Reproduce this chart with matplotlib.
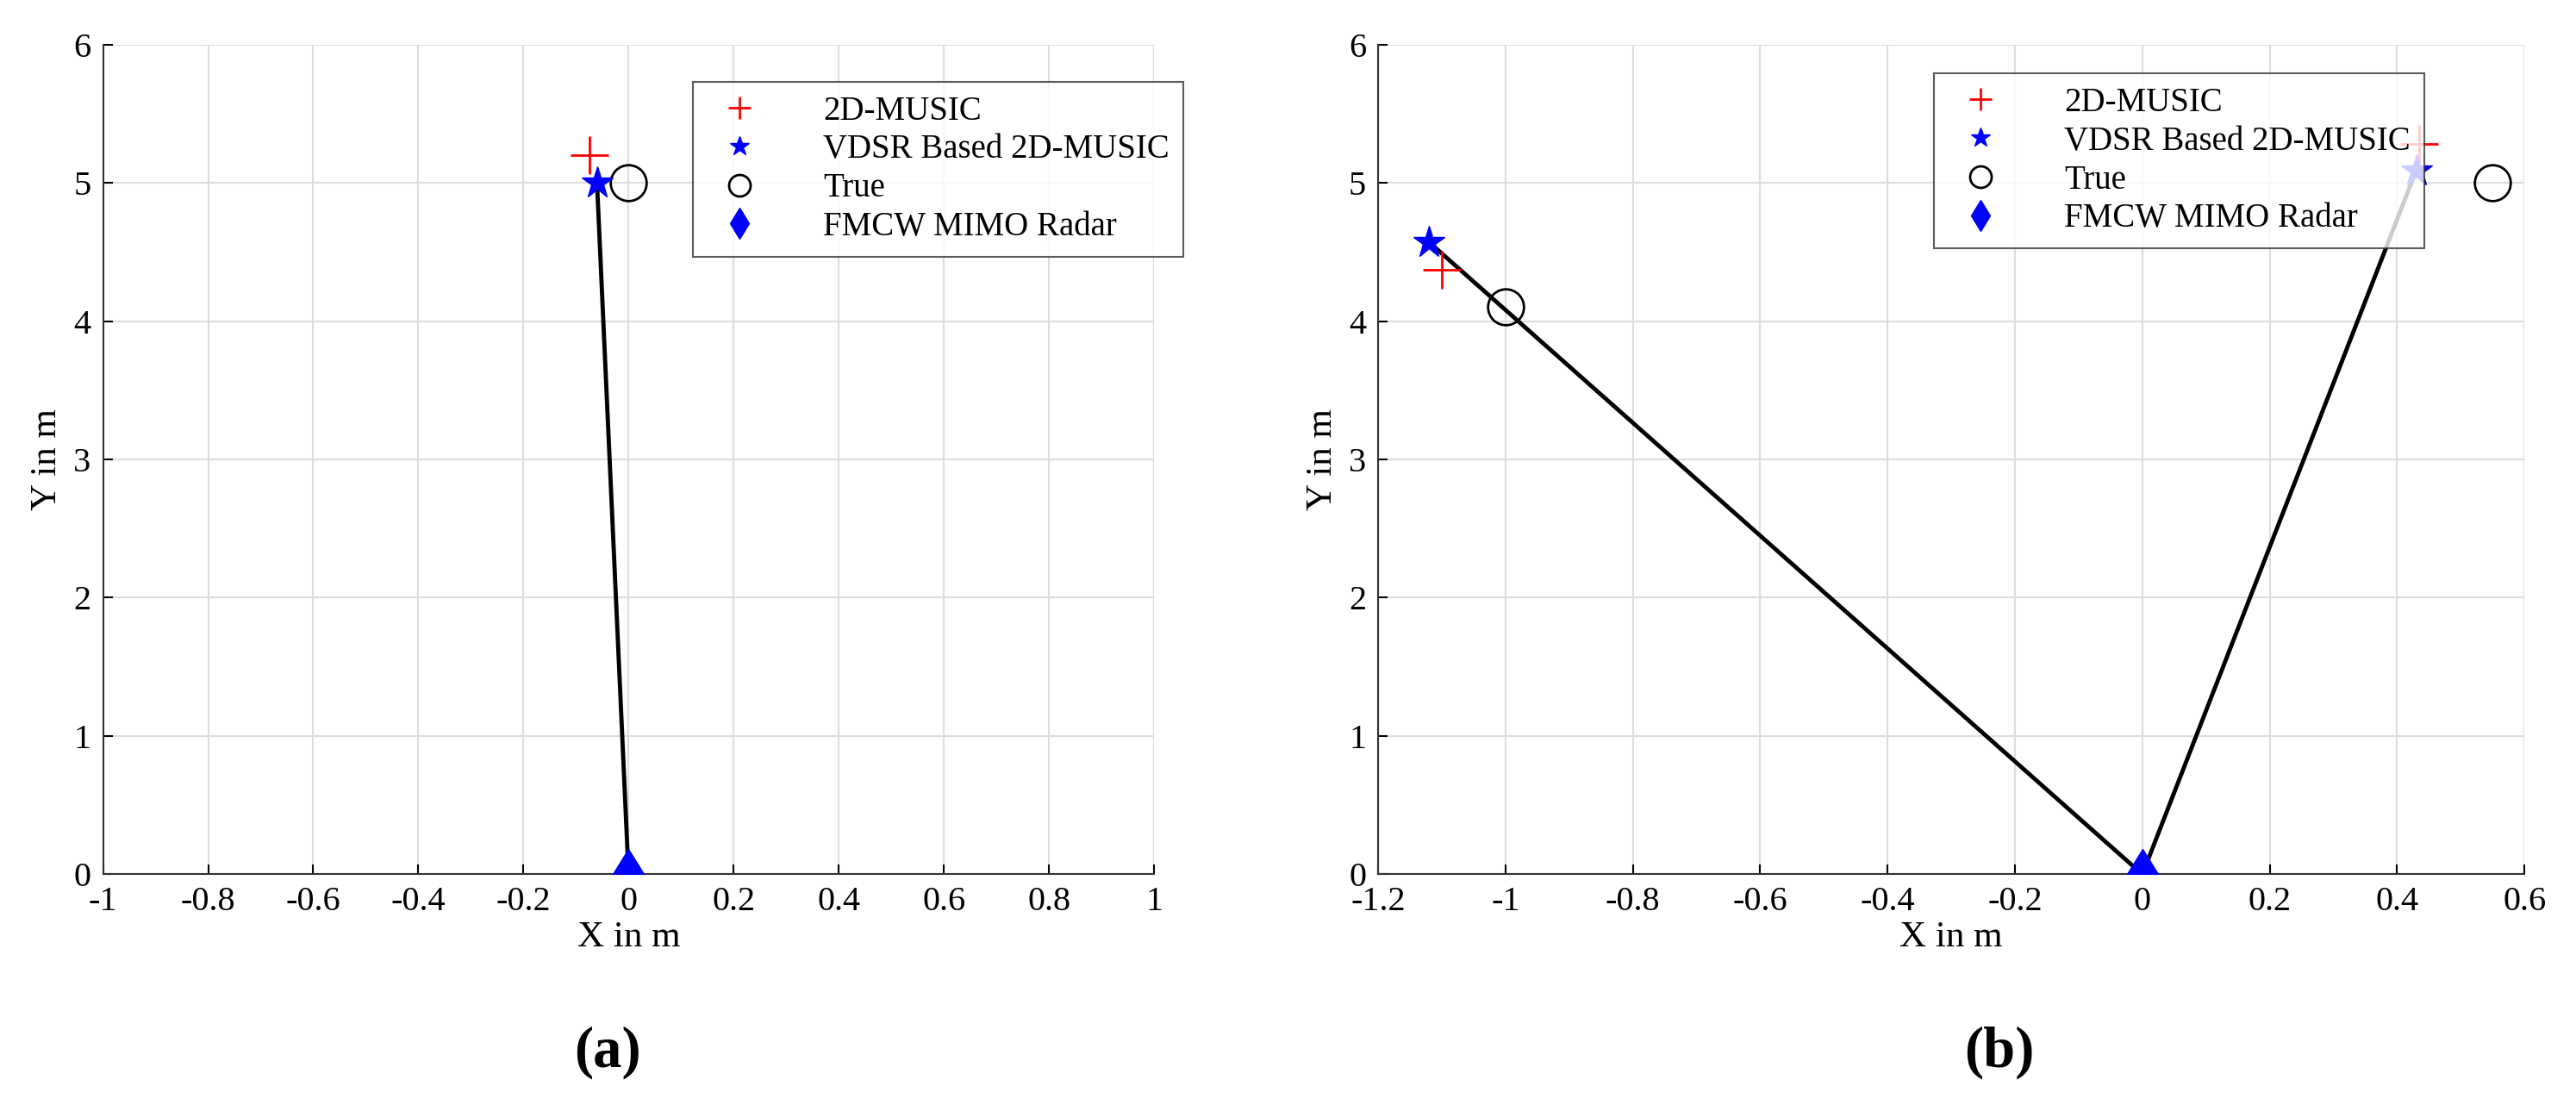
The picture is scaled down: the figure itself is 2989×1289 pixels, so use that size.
import matplotlib
matplotlib.use("Agg")
import matplotlib.pyplot as plt

plt.rcParams["font.family"] = ["Liberation Serif", "DejaVu Serif"]
plt.rcParams["axes.unicode_minus"] = False

# panel (a)
a_music_x = [-0.075]
a_music_y = [5.2]
a_vdsr_x = [-0.06]
a_vdsr_y = [5.0]
a_true_x = [0.0]
a_true_y = [5.0]

# panel (b)
b_music_x = [-1.10, 0.435]
b_music_y = [4.37, 5.28]
b_vdsr_x = [-1.12, 0.43]
b_vdsr_y = [4.57, 5.09]
b_true_x = [-1.0, 0.55]
b_true_y = [4.10, 5.00]

radar_x = [0.0]
radar_y = [0.0]

fig = plt.figure(figsize=(29.89, 12.89), dpi=100)
ax_a = fig.add_axes([0.040, 0.213, 0.408, 0.747])
ax_b = fig.add_axes([0.535, 0.213, 0.445, 0.747])


def draw(ax, mx, my, vx, vy, tx, ty, xlim, xticks, legend_anchor):
    for x, y in zip(vx, vy):
        ax.plot([radar_x[0], x], [radar_y[0], y], color="black", lw=3.5, zorder=2)
    ax.plot(mx, my, "+", color="red", ms=32, mew=2, ls="none", label="2D-MUSIC", zorder=3)
    ax.plot(vx, vy, "*", color="blue", ms=28, ls="none", label="VDSR Based 2D-MUSIC", zorder=4)
    ax.plot(tx, ty, "o", mfc="none", mec="black", ms=30, mew=2, ls="none", label="True", zorder=3)
    ax.plot(radar_x, radar_y, "d", color="blue", ms=30, ls="none", label="FMCW MIMO Radar", zorder=5)
    ax.set_xlim(*xlim)
    ax.set_ylim(0, 6)
    ax.set_xticks(xticks)
    ax.set_xticklabels([f"{t:g}" for t in xticks])
    ax.set_yticks(range(7))
    ax.grid(True, color="#dddddd", lw=1.5)
    ax.tick_params(labelsize=29, direction="in", length=8, width=1.5, pad=10)
    for s in ["top", "right"]:
        ax.spines[s].set_visible(False)
    for s in ["left", "bottom"]:
        ax.spines[s].set_linewidth(1.5)
        ax.spines[s].set_color("#333333")
    ax.set_xlabel("X in m", fontsize=31, labelpad=2)
    ax.set_ylabel("Y in m", fontsize=31, labelpad=8)
    leg = ax.legend(loc="upper left", bbox_to_anchor=legend_anchor, fontsize=28,
                    frameon=True, fancybox=False, edgecolor="#333333",
                    borderpad=0.4, labelspacing=0.2, handletextpad=1.5, markerscale=0.6)
    leg.get_frame().set_linewidth(1.5)


draw(ax_a, a_music_x, a_music_y, a_vdsr_x, a_vdsr_y, a_true_x, a_true_y,
     (-1, 1), [-1, -0.8, -0.6, -0.4, -0.2, 0, 0.2, 0.4, 0.6, 0.8, 1], (0.545, 0.975))
draw(ax_b, b_music_x, b_music_y, b_vdsr_x, b_vdsr_y, b_true_x, b_true_y,
     (-1.2, 0.6), [-1.2, -1, -0.8, -0.6, -0.4, -0.2, 0, 0.2, 0.4, 0.6], (0.47, 0.985))

fig.text(0.236, 0.04, "(a)", fontsize=48, fontweight="bold", ha="center")
fig.text(0.776, 0.04, "(b)", fontsize=48, fontweight="bold", ha="center")

fig.savefig("out.png", dpi=100)
